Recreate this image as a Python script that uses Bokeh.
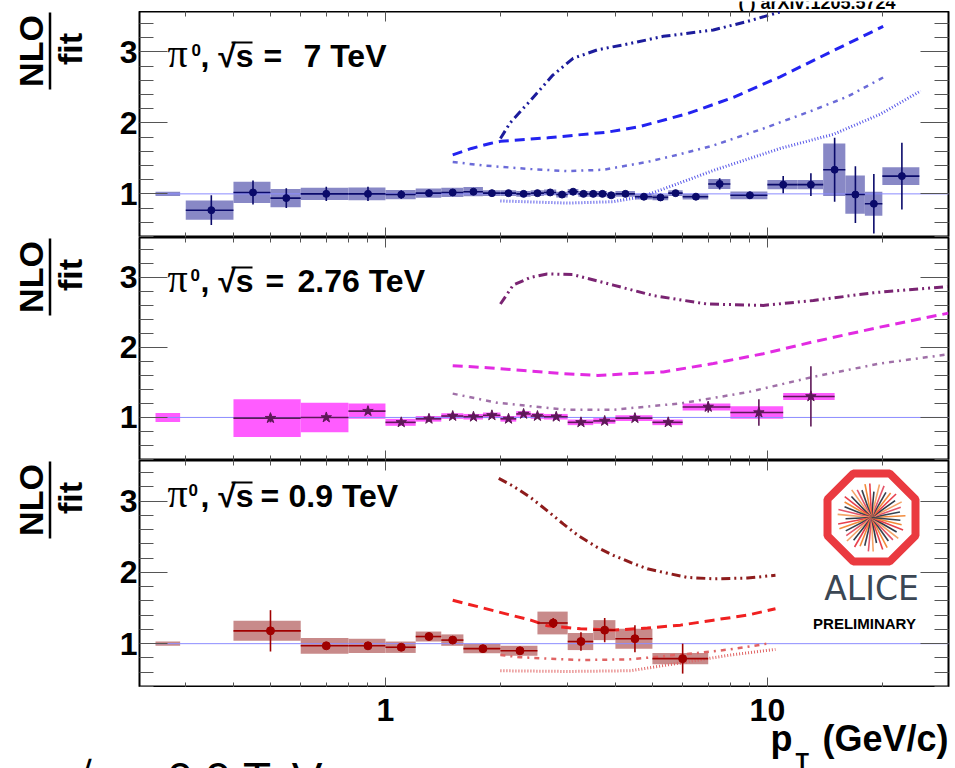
import numpy as np
from bokeh.plotting import figure
from bokeh.models import Range1d, LogAxis, LinearAxis, FixedTicker, Label
from bokeh.layouts import column, row
from bokeh.embed import file_html
from bokeh.resources import INLINE

# ---------------------------------------------------------------- data
# NLO / fit ratios for neutral pions at three collision energies.
norm_box_pt = [0.25, 0.29]      # pT span of the normalisation-uncertainty box
unity_pt = [0.25, 30.0]         # pT span of the ratio = 1 reference line

# sqrt(s) = 7 TeV
pt_edges_7 = [0.3, 0.4, 0.5, 0.6, 0.8, 1.0, 1.2, 1.4, 1.6, 1.8, 2.0, 2.2, 2.4, 2.6,
              2.8, 3.0, 3.2, 3.4, 3.6, 3.8, 4.0, 4.5, 5.0, 5.5, 6.0, 7.0, 8.0, 10,
              12, 14, 16, 18, 20, 25]
ratio_7 = [0.77, 1.02, 0.94, 1.00, 1.00, 0.99, 1.01, 1.02, 1.03, 1.01, 1.01, 1.00,
           1.01, 1.02, 0.99, 1.03, 1.00, 1.00, 1.00, 0.98, 1.00, 0.96, 0.95, 1.01,
           0.96, 1.14, 0.98, 1.13, 1.13, 1.34, 0.99, 0.86, 1.25]
stat_7 = [0.21, 0.17, 0.14, 0.10, 0.10, 0.06, 0.04, 0.03, 0.03, 0.03, 0.03, 0.02,
          0.02, 0.02, 0.02, 0.02, 0.02, 0.02, 0.02, 0.02, 0.02, 0.02, 0.02, 0.03,
          0.03, 0.08, 0.05, 0.12, 0.16, 0.45, 0.40, 0.42, 0.47]
sys_7 = [0.135, 0.15, 0.13, 0.085, 0.09, 0.065, 0.065, 0.065, 0.065, 0.04, 0.04, 0.04,
         0.04, 0.04, 0.04, 0.04, 0.04, 0.04, 0.04, 0.04, 0.04, 0.04, 0.04, 0.04,
         0.04, 0.07, 0.055, 0.065, 0.065, 0.37, 0.27, 0.17, 0.125]
norm_unc_7 = 0.03
nlo_7_a_pt = [2.0, 2.12, 2.40, 2.74, 3.10, 3.59, 4.38, 5.34, 7.22, 8.87, 10.9]
nlo_7_a = [1.78, 2.00, 2.32, 2.67, 2.91, 3.03, 3.12, 3.22, 3.31, 3.43, 3.57]
nlo_7_b_pt = [1.5, 1.68, 1.88, 2.0, 2.66, 3.81, 4.65, 6.17, 8.15, 10.8, 14.4, 20.1]
nlo_7_b = [1.55, 1.64, 1.71, 1.74, 1.79, 1.87, 1.95, 2.13, 2.36, 2.65, 2.98, 3.36]
nlo_7_c_pt = [1.5, 1.8, 2.4, 3.0, 3.72, 4.85, 5.92, 7.2, 9.75, 13.2, 16.2, 20.1]
nlo_7_c = [1.45, 1.40, 1.35, 1.32, 1.34, 1.45, 1.56, 1.68, 1.92, 2.18, 2.37, 2.64]
nlo_7_d_pt = [2.0, 3.0, 3.95, 4.7, 5.67, 7.22, 10.8, 14.9, 19.7, 25.2]
nlo_7_d = [0.90, 0.87, 0.89, 0.96, 1.12, 1.33, 1.64, 1.84, 2.12, 2.45]

# sqrt(s) = 2.76 TeV
pt_edges_276 = [0.4, 0.6, 0.8, 1.0, 1.2, 1.4, 1.6, 1.8, 2.0, 2.2, 2.4, 2.6, 3.0,
                3.5, 4.0, 5.0, 6.0, 8.0, 11.0, 15.0]
ratio_276 = [0.99, 1.00, 1.09, 0.93, 0.98, 1.02, 1.01, 1.03, 0.98, 1.05, 1.02,
             1.01, 0.93, 0.95, 0.99, 0.93, 1.15, 1.07, 1.30]
stat_276 = [0.06, 0.03, 0.03, 0.02, 0.02, 0.02, 0.02, 0.02, 0.02, 0.02, 0.02,
            0.02, 0.02, 0.02, 0.03, 0.04, 0.08, 0.19, 0.43]
sys_276 = [0.27, 0.21, 0.11, 0.05, 0.04, 0.04, 0.04, 0.04, 0.04, 0.04, 0.04,
           0.04, 0.04, 0.04, 0.04, 0.04, 0.05, 0.09, 0.05]
norm_unc_276 = 0.065
nlo_276_a_pt = [2.0, 2.16, 2.40, 2.65, 3.10, 3.95, 5.03, 6.95, 9.75, 13.2, 18.9, 29.6]
nlo_276_a = [2.62, 2.89, 3.00, 3.05, 3.04, 2.89, 2.74, 2.62, 2.60, 2.67, 2.78, 2.87]
nlo_276_b_pt = [1.5, 1.85, 2.30, 2.84, 3.59, 5.34, 7.22, 9.75, 13.2, 19.7, 29.8]
nlo_276_b = [1.74, 1.71, 1.67, 1.63, 1.60, 1.65, 1.77, 1.91, 2.08, 2.29, 2.49]
nlo_276_c_pt = [1.5, 1.96, 2.40, 2.99, 3.95, 5.92, 8.87, 13.2, 19.7, 29.6]
nlo_276_c = [1.34, 1.21, 1.16, 1.11, 1.11, 1.20, 1.36, 1.58, 1.77, 1.90]

# sqrt(s) = 0.9 TeV
pt_edges_09 = [0.4, 0.6, 0.8, 1.0, 1.2, 1.4, 1.6, 2.0, 2.5, 3.0, 3.5, 4.0, 5.0, 7.0]
ratio_09 = [1.18, 0.97, 0.97, 0.95, 1.10, 1.05, 0.93, 0.90, 1.29, 1.03, 1.19, 1.07, 0.79]
stat_09 = [0.29, 0.04, 0.03, 0.03, 0.03, 0.04, 0.03, 0.05, 0.07, 0.13, 0.17, 0.19, 0.21]
sys_09 = [0.14, 0.11, 0.10, 0.08, 0.07, 0.08, 0.065, 0.07, 0.16, 0.12, 0.14, 0.14, 0.08]
norm_unc_09 = 0.03
nlo_09_a_pt = [1.98, 2.16, 2.40, 2.66, 2.92, 3.21, 3.59, 3.95, 4.38, 4.85, 5.34, 6.16,
               7.22, 8.87, 10.5]
nlo_09_a = [3.32, 3.21, 3.05, 2.86, 2.68, 2.51, 2.35, 2.24, 2.14, 2.05, 2.00, 1.93,
            1.91, 1.92, 1.96]
nlo_09_b_pt = [1.5, 1.96, 2.40, 2.66, 3.24, 3.95, 4.85, 5.92, 7.22, 8.87, 10.5]
nlo_09_b = [1.61, 1.45, 1.33, 1.25, 1.21, 1.19, 1.22, 1.26, 1.33, 1.40, 1.49]
nlo_09_c_pt = [2.0, 2.25, 2.92, 3.24, 4.38, 6.55, 7.99, 10.0]
nlo_09_c = [0.84, 0.81, 0.78, 0.77, 0.78, 0.87, 0.92, 1.00]
nlo_09_d_pt = [2.0, 3.0, 4.38, 5.92, 7.99, 10.5]
nlo_09_d = [0.62, 0.61, 0.62, 0.73, 0.84, 0.92]

x_major_ticks = [1, 10]
x_tick_labels = ["1", "10"]
x_minor_ticks = [0.3, 0.4, 0.5, 0.6, 0.7, 0.8, 0.9, 2, 3, 4, 5, 6, 7, 8, 9, 20]
y_major_ticks = [1, 2, 3]
y_minor_ticks = [0.4, 0.6, 0.8, 1.2, 1.4, 1.6, 1.8, 2.2, 2.4, 2.6, 2.8, 3.2, 3.4]

# ---------------------------------------------------------------- layout
PAGE_W = 955
LAB_W = 88                      # column holding the rotated NLO/fit title
MAIN_W = PAGE_W - LAB_W
FRAME_X0 = 139                  # left edge of the plotting frame in the page
FRAME_W = 809
B_LEFT = FRAME_X0 - LAB_W
B_RIGHT = MAIN_W - B_LEFT - FRAME_W

PT_LO, PT_HI = 0.227, 29.8
R_LO, R_HI = 0.385, 3.57
LG0, LG1 = np.log10(PT_LO), np.log10(PT_HI)

TOP_STRIP = 11                  # strip above the panels
PANEL_H = [226, 223, 227]       # frame heights of the three panels
BOTTOM_STRIP = 81               # strip below the panels (tick labels, axis title)

TXT = "Liberation Sans"
TICK = "#555555"
MID = 0.3465                    # baseline -> text middle, in em


def px_pt(px):
    """page x pixel -> pT value"""
    return float(10 ** (LG0 + (px - FRAME_X0) / FRAME_W * (LG1 - LG0)))


def px_r(dy, fh):
    """pixels below the frame top -> ratio value"""
    return R_HI - dy / fh * (R_HI - R_LO)


def text_label(x, y, text, size, bold=True, font=TXT, align="left", color="black",
               angle=0):
    return Label(x=x, y=y, text=text, text_font=font,
                 text_font_style="bold" if bold else "normal",
                 text_font_size=f"{size}px", text_align=align, text_baseline="middle",
                 text_color=color, angle=angle, angle_units="deg")


def tick_axis(p, cls, side, positions, length):
    # tick marks only: positions are given as minor ticks so no labels are produced
    ax = cls(ticker=FixedTicker(ticks=[], minor_ticks=positions))
    ax.axis_line_color = None
    ax.major_tick_line_color = None
    ax.minor_tick_in = length
    ax.minor_tick_out = 0
    ax.minor_tick_line_color = TICK
    ax.major_label_standoff = 0
    p.add_layout(ax, side)


def make_main(fh):
    p = figure(width=MAIN_W, height=fh, x_axis_type="log",
               x_range=Range1d(PT_LO, PT_HI), y_range=Range1d(R_LO, R_HI),
               x_axis_location=None, y_axis_location=None,
               min_border_left=B_LEFT, min_border_right=B_RIGHT,
               min_border_top=0, min_border_bottom=0,
               output_backend="svg", toolbar_location=None)
    p.grid.visible = False
    p.outline_line_color = "black"
    p.outline_line_width = 2
    # labelled ratio axis on the left
    ay = LinearAxis(ticker=FixedTicker(ticks=y_major_ticks, minor_ticks=y_minor_ticks))
    ay.axis_line_color = None
    ay.major_tick_in, ay.major_tick_out = 28, 0
    ay.minor_tick_in, ay.minor_tick_out = 14, 0
    ay.major_tick_line_color = TICK
    ay.minor_tick_line_color = TICK
    ay.major_label_text_font = TXT
    ay.major_label_text_font_style = "bold"
    ay.major_label_text_font_size = "32px"
    ay.major_label_text_color = "black"
    ay.major_label_standoff = 2
    p.add_layout(ay, "left")
    tick_axis(p, LinearAxis, "right", y_minor_ticks, 14)
    tick_axis(p, LinearAxis, "right", y_major_ticks, 28)
    for side in ("below", "above"):
        tick_axis(p, LogAxis, side, x_minor_ticks, 5)
        tick_axis(p, LogAxis, side, x_major_ticks, 10)
    return p


def make_lab(fh):
    q = figure(width=LAB_W, height=fh, x_range=Range1d(0, LAB_W), y_range=Range1d(fh, 0),
               x_axis_location=None, y_axis_location=None, min_border=0,
               output_backend="svg", toolbar_location=None)
    q.grid.visible = False
    q.outline_line_color = None
    q.add_layout(text_label(30.5, 39.5, "NLO", 34, align="center", angle=90))
    q.add_layout(text_label(69.5, 37.5, "fit", 34, align="center", angle=90))
    q.segment(x0=[49.5], y0=[1], x1=[49.5], y1=[78], line_color="black", line_width=2.5)
    return q


def make_strip(h):
    s = figure(width=PAGE_W, height=h, x_axis_type="log",
               x_range=Range1d(px_pt(0), px_pt(PAGE_W)), y_range=Range1d(h, 0),
               x_axis_location=None, y_axis_location=None, min_border=0,
               output_backend="svg", toolbar_location=None)
    s.grid.visible = False
    s.outline_line_color = None
    return s


def add_title(p, fh, base, sup_x, eq_x, val_x, val_text):
    p.add_layout(text_label(px_pt(167), px_r(base - MID * 40, fh), "π", 40, bold=False,
                            font="Liberation Serif"))
    p.add_layout(text_label(px_pt(sup_x), px_r(base - 12 - MID * 17, fh), "0", 17))
    p.add_layout(text_label(px_pt(200), px_r(base - MID * 32, fh), ", √s", 32))
    p.segment(x0=[px_pt(231)], y0=[px_r(base - 25, fh)], x1=[px_pt(252)],
              y1=[px_r(base - 25, fh)], line_color="black", line_width=2)
    p.add_layout(text_label(px_pt(eq_x), px_r(base - MID * 32, fh), "=", 32))
    p.add_layout(text_label(px_pt(val_x), px_r(base - MID * 32, fh), val_text, 32))


def draw_data(p, edges, vals, stat, sys, norm_unc, box_col, mk_col, marker, msize, curves):
    lo = np.array(edges[:-1], dtype=float)
    hi = np.array(edges[1:], dtype=float)
    mid = (lo + hi) / 2
    v = np.array(vals)
    st = np.array(stat)
    sy = np.array(sys)
    p.quad(left=[norm_box_pt[0]], right=[norm_box_pt[1]], bottom=[1 - norm_unc],
           top=[1 + norm_unc], fill_color=box_col, line_color=None)
    p.quad(left=lo, right=hi, bottom=v - sy, top=v + sy, fill_color=box_col,
           line_color=None)
    p.line(unity_pt, [1, 1], line_color="#8c8cff", line_width=1)
    for xs, ys, col, dash, lw in curves:
        p.line(xs, ys, line_color=col, line_dash=dash, line_width=lw)
    p.segment(x0=lo, y0=v, x1=hi, y1=v, line_color=mk_col, line_width=1.6)
    p.segment(x0=mid, y0=v - st, x1=mid, y1=v + st, line_color=mk_col, line_width=1.6)
    p.scatter(mid, v, marker=marker, size=msize, fill_color=mk_col, line_color=mk_col)


DDD = "9 4 2 4 2 4"
DASH = "10 6"
DDOT = "5 5 2 5"
DOT = "1 2"

# top strip: reference note, cut by the page edge
top = make_strip(TOP_STRIP)
top.add_layout(text_label(px_pt(738), 8 - MID * 18, "( ) arXiv:1205.5724", 18))

rows = [top]
for i, fh in enumerate(PANEL_H):
    p = make_main(fh)
    if i == 0:
        draw_data(p, pt_edges_7, ratio_7, stat_7, sys_7, norm_unc_7, "#8888c6", "#0a0a6a",
                  "circle", 7,
                  [(nlo_7_a_pt, nlo_7_a, "#1c1c9c", DDD, 3),
                   (nlo_7_b_pt, nlo_7_b, "#2323f0", DASH, 3),
                   (nlo_7_c_pt, nlo_7_c, "#6b6bd8", DDOT, 2.5),
                   (nlo_7_d_pt, nlo_7_d, "#5858e8", DOT, 3)])
        add_title(p, fh, 56, 191, 263, 303, "7 TeV")
    elif i == 1:
        draw_data(p, pt_edges_276, ratio_276, stat_276, sys_276, norm_unc_276, "#ff5cff",
                  "#5e1858", "star", 11,
                  [(nlo_276_a_pt, nlo_276_a, "#7a2472", DDD, 3),
                   (nlo_276_b_pt, nlo_276_b, "#e22be2", DASH, 3),
                   (nlo_276_c_pt, nlo_276_c, "#a070a8", DDOT, 2.5)])
        add_title(p, fh, 55, 190, 265, 297, "2.76 TeV")
    else:
        draw_data(p, pt_edges_09, ratio_09, stat_09, sys_09, norm_unc_09, "#c88a8a",
                  "#a00000", "circle", 8,
                  [(nlo_09_a_pt, nlo_09_a, "#8e1c1c", DDD, 3),
                   (nlo_09_b_pt, nlo_09_b, "#f02020", DASH, 3),
                   (nlo_09_c_pt, nlo_09_c, "#e06464", DDOT, 2.5),
                   (nlo_09_d_pt, nlo_09_d, "#e06464", DOT, 3)])
        add_title(p, fh, 47, 188, 260, 288, "0.9 TeV")

        # experiment logo: red octagon with a burst of tracks
        cx, cy = 871, 57
        ap = 44
        rad = ap / np.cos(np.pi / 8)
        ang = np.pi / 8 + np.arange(8) * np.pi / 4
        p.patch([px_pt(cx + rad * np.cos(a)) for a in ang],
                [px_r(cy - rad * np.sin(a), fh) for a in ang],
                fill_color="white", line_color="#ea3a40", line_width=8)
        track_cols = ["#f28a3a", "#37424f", "#e4566a", "#f4a468", "#2f3a48", "#e8404c"]
        x0s, y0s, x1s, y1s, cols = [], [], [], [], []
        for k in range(44):
            a = k * 2 * np.pi / 44 + 0.05
            r = 34 - 5 * (k % 3 == 1) - 3 * (k % 4 == 2)
            x0s.append(px_pt(cx))
            y0s.append(px_r(cy, fh))
            x1s.append(px_pt(cx + r * np.cos(a)))
            y1s.append(px_r(cy - r * np.sin(a), fh))
            cols.append(track_cols[k % len(track_cols)])
        p.segment(x0=x0s, y0=y0s, x1=x1s, y1=y1s, line_color=cols, line_width=1.6)
        p.add_layout(text_label(px_pt(871), px_r(139 - MID * 33, fh), "ALICE", 33,
                                bold=False, font="DejaVu Sans", align="center",
                                color="#3b4754"))
        p.add_layout(text_label(px_pt(864), px_r(168 - MID * 15, fh), "PRELIMINARY", 15,
                                align="center"))
    rows.append(row(make_lab(fh), p))

# bottom strip: pT tick labels, axis title and a caption cut by the page edge
bot = make_strip(BOTTOM_STRIP)
for xt, lab in zip(x_major_ticks, x_tick_labels):
    bot.add_layout(text_label(xt, 34 - MID * 32, lab, 32, align="center"))
bot.add_layout(text_label(px_pt(770), 63 - MID * 36, "p", 36))
bot.add_layout(text_label(px_pt(795), 81 - MID * 22, "T", 22))
bot.add_layout(text_label(px_pt(948), 63 - MID * 36, "(GeV/c)", 36, align="right"))
bot.add_layout(text_label(px_pt(66), 107 - MID * 46, "√s = 0.9 TeV", 46, bold=False))
rows.append(bot)

layout = column(*rows)
open("out.html", "w").write(file_html(layout, INLINE))
